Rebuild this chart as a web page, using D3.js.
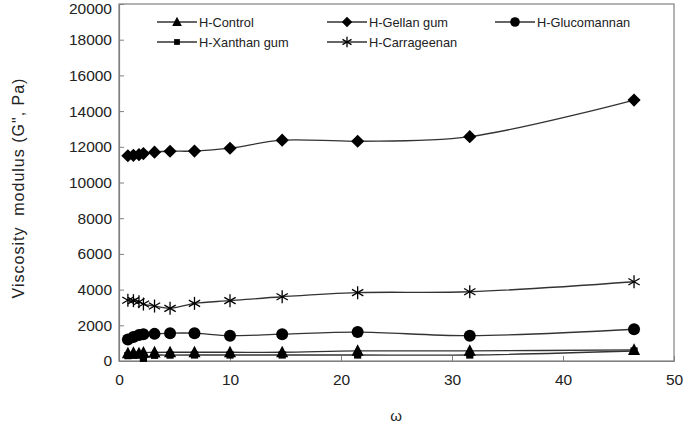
<!DOCTYPE html>
<html><head><meta charset="utf-8">
<script src="https://cdn.jsdelivr.net/npm/d3@7"></script>
<style>body{margin:0;background:#fff;} svg{display:block;font-family:"Liberation Sans",Arial,sans-serif;}</style>
</head><body><svg id="c" width="690" height="427"></svg>
<script>
const omega = [0.8, 1.3, 1.8, 2.2, 3.2, 4.6, 6.8, 10, 14.7, 21.5, 31.6, 46.4];
const seriesNames = ["H-Control", "H-Gellan gum", "H-Glucomannan", "H-Xanthan gum", "H-Carrageenan"];
const control     = [430, 450, 430, 470, 480, 490, 490, 490, 490, 570, 570, 620];
const gellan      = [11500, 11520, 11560, 11620, 11700, 11750, 11760, 11920, 12370, 12310, 12570, 14620];
const glucomannan = [1200, 1350, 1450, 1500, 1520, 1560, 1560, 1420, 1500, 1620, 1420, 1780];
const xanthan     = [300, 320, 330, 150, 320, 330, 336, 336, 336, 336, 336, 560];
const carrageenan = [3400, 3380, 3320, 3190, 3080, 2950, 3230, 3380, 3600, 3830, 3880, 4440];
const xTicks = [0, 10, 20, 30, 40, 50];
const yTicks = [0, 2000, 4000, 6000, 8000, 10000, 12000, 14000, 16000, 18000, 20000];
const symbols = ["triangle", "diamond", "circle", "square", "asterisk"];
const allValues = [control, gellan, glucomannan, xanthan, carrageenan];

const svg = d3.select("#c");
const L = 119, R = 674, T = 4, B = 361;
const x = d3.scaleLinear().domain([0, 50]).range([L, R]);
const y = d3.scaleLinear().domain([0, 20000]).range([B, T]);

svg.append("rect").attr("x", L).attr("y", T).attr("width", R - L).attr("height", B - T)
  .attr("fill", "none").attr("stroke", "#808080").attr("stroke-width", 1.2);

const ya = svg.append("g").attr("transform", `translate(${L},0)`)
  .call(d3.axisLeft(y).tickValues(yTicks).tickSizeInner(-5).tickSizeOuter(0).tickPadding(7).tickFormat(d3.format("d")));
const xa = svg.append("g").attr("transform", `translate(0,${B})`)
  .call(d3.axisBottom(x).tickValues(xTicks).tickSizeInner(-5).tickSizeOuter(0).tickPadding(13));
[ya, xa].forEach(a => {
  a.select(".domain").attr("stroke", "#808080").attr("stroke-width", 1.2);
  a.selectAll(".tick line").attr("stroke", "#808080");
  a.selectAll("text").attr("font-size", 15.5).attr("fill", "#222").attr("font-family", "Liberation Sans, Arial, sans-serif");
});
ya.selectAll(".tick").filter(d => d === 20000).select("text").attr("dy", "0.62em");

svg.append("text").attr("x", 396).attr("y", 421).attr("text-anchor", "middle")
  .attr("font-size", 15).attr("fill", "#222").text("ω");
svg.append("text").attr("transform", "translate(24,188) rotate(-90)").attr("text-anchor", "middle")
  .attr("font-size", 16).attr("fill", "#222").attr("letter-spacing", 1).style("white-space", "pre")
  .text('Viscosity  modulus (G", Pa)');

function drawMarker(g, type, cx, cy, s) {
  if (type === "triangle") {
    g.append("path").attr("d", `M${cx},${cy - s * 0.6}L${cx + s * 0.55},${cy + s * 0.45}L${cx - s * 0.55},${cy + s * 0.45}Z`).attr("fill", "#000");
  } else if (type === "diamond") {
    g.append("path").attr("d", `M${cx},${cy - s * 0.6}L${cx + s * 0.6},${cy}L${cx},${cy + s * 0.6}L${cx - s * 0.6},${cy}Z`).attr("fill", "#000");
  } else if (type === "circle") {
    g.append("circle").attr("cx", cx).attr("cy", cy).attr("r", s * 0.5).attr("fill", "#000");
  } else if (type === "square") {
    g.append("rect").attr("x", cx - s * 0.4).attr("y", cy - s * 0.4).attr("width", s * 0.8).attr("height", s * 0.8).attr("fill", "#000");
  } else {
    const r = s * 0.5;
    const p = [[0, -r, 0, r], [-r * 0.87, -r * 0.5, r * 0.87, r * 0.5], [-r * 0.87, r * 0.5, r * 0.87, -r * 0.5]];
    p.forEach(q => g.append("line").attr("x1", cx + q[0]).attr("y1", cy + q[1]).attr("x2", cx + q[2]).attr("y2", cy + q[3])
      .attr("stroke", "#000").attr("stroke-width", 1.3));
  }
}

const line = d3.line().x(d => x(d[0])).y(d => y(d[1])).curve(d3.curveCatmullRom.alpha(0.5));
const sizes = {triangle: 11, diamond: 11, circle: 12, square: 9, asterisk: 13};
const drawOrder = [3, 2, 1, 4, 0];
drawOrder.forEach(i => {
  const pts = omega.map((w, j) => [w, allValues[i][j]]);
  svg.append("path").attr("d", line(pts)).attr("fill", "none").attr("stroke", "#333").attr("stroke-width", 1.3);
});
drawOrder.forEach(i => {
  const g = svg.append("g");
  omega.forEach((w, j) => drawMarker(g, symbols[i], x(w), y(allValues[i][j]), sizes[symbols[i]]));
});

const legPos = [[157, 22], [327, 22], [495, 22], [157, 42], [327, 42]];
seriesNames.forEach((n, i) => {
  const [lx, ly] = legPos[i];
  const g = svg.append("g");
  g.append("line").attr("x1", lx).attr("x2", lx + 40).attr("y1", ly).attr("y2", ly).attr("stroke", "#333").attr("stroke-width", 1.3);
  drawMarker(g, symbols[i], lx + 20, ly, sizes[symbols[i]] * 0.8);
  g.append("text").attr("x", lx + 42).attr("y", ly + 4.5).attr("font-size", 12.8).attr("fill", "#222").text(n);
});
</script></body></html>
